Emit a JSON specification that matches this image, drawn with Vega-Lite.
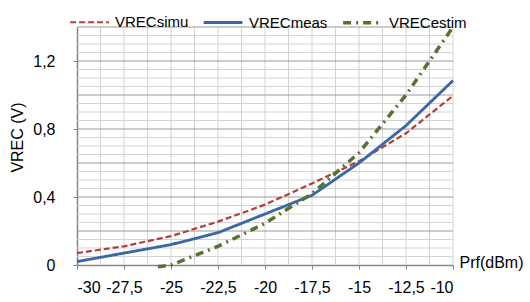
{
  "$schema": "https://vega.github.io/schema/vega-lite/v6.json",
  "width": 376,
  "height": 238,
  "autosize": {"type": "none"},
  "padding": {"left": 77, "top": 27, "right": 77, "bottom": 37},
  "background": "white",
  "config": {
    "view": {"stroke": null},
    "font": "Liberation Sans",
    "locale": {"number": {"decimal": ",", "thousands": ".", "grouping": [3], "currency": ["", " €"], "minus": "-"}}
  },
  "datasets": {
    "main": [
      {"x": -30, "v": 0.07, "series": "VRECsimu"},
      {"x": -27.5, "v": 0.11, "series": "VRECsimu"},
      {"x": -25, "v": 0.17, "series": "VRECsimu"},
      {"x": -22.5, "v": 0.255, "series": "VRECsimu"},
      {"x": -20, "v": 0.355, "series": "VRECsimu"},
      {"x": -17.5, "v": 0.48, "series": "VRECsimu"},
      {"x": -15, "v": 0.61, "series": "VRECsimu"},
      {"x": -12.5, "v": 0.775, "series": "VRECsimu"},
      {"x": -10, "v": 0.995, "series": "VRECsimu"},
      {"x": -30, "v": 0.02, "series": "VRECmeas"},
      {"x": -27.5, "v": 0.07, "series": "VRECmeas"},
      {"x": -25, "v": 0.12, "series": "VRECmeas"},
      {"x": -22.5, "v": 0.19, "series": "VRECmeas"},
      {"x": -20, "v": 0.3, "series": "VRECmeas"},
      {"x": -17.5, "v": 0.41, "series": "VRECmeas"},
      {"x": -15, "v": 0.6, "series": "VRECmeas"},
      {"x": -12.5, "v": 0.82, "series": "VRECmeas"},
      {"x": -10, "v": 1.085, "series": "VRECmeas"},
      {"x": -25.7, "v": -0.01, "series": "VRECestim"},
      {"x": -25, "v": 0.0, "series": "VRECestim"},
      {"x": -22.5, "v": 0.11, "series": "VRECestim"},
      {"x": -20, "v": 0.245, "series": "VRECestim"},
      {"x": -17.5, "v": 0.42, "series": "VRECestim"},
      {"x": -15, "v": 0.66, "series": "VRECestim"},
      {"x": -12.5, "v": 1.0, "series": "VRECestim"},
      {"x": -10, "v": 1.4, "series": "VRECestim"}
    ],
    "gridx": [
      {"g": -28.75}, {"g": -27.5}, {"g": -26.25}, {"g": -25}, {"g": -23.75}, {"g": -22.5}, {"g": -21.25}, {"g": -20},
      {"g": -18.75}, {"g": -17.5}, {"g": -16.25}, {"g": -15}, {"g": -13.75}, {"g": -12.5}, {"g": -11.25}, {"g": -10}
    ],
    "gridyMinor": [
      {"g": 0.05}, {"g": 0.1}, {"g": 0.15}, {"g": 0.25}, {"g": 0.3}, {"g": 0.35}, {"g": 0.45}, {"g": 0.5}, {"g": 0.55},
      {"g": 0.65}, {"g": 0.7}, {"g": 0.75}, {"g": 0.85}, {"g": 0.9}, {"g": 0.95}, {"g": 1.05}, {"g": 1.1}, {"g": 1.15},
      {"g": 1.25}, {"g": 1.3}, {"g": 1.35}
    ],
    "gridyMajor": [
      {"g": 0.2}, {"g": 0.4}, {"g": 0.6}, {"g": 0.8}, {"g": 1}, {"g": 1.2}, {"g": 1.4}
    ]
  },
  "layer": [
    {
      "data": {"name": "gridx"},
      "mark": {"type": "rule", "color": "#d3d3d3", "strokeWidth": 1},
      "encoding": {
        "x": {"field": "g", "type": "quantitative", "scale": {"domain": [-30, -10], "nice": false, "zero": false}}
      }
    },
    {
      "data": {"name": "gridyMinor"},
      "mark": {"type": "rule", "color": "#d3d3d3", "strokeWidth": 1},
      "encoding": {
        "y": {"field": "g", "type": "quantitative", "scale": {"domain": [0, 1.4], "nice": false, "zero": false}}
      }
    },
    {
      "data": {"name": "gridyMajor"},
      "mark": {"type": "rule", "color": "#9a9a9a", "strokeWidth": 1},
      "encoding": {
        "y": {"field": "g", "type": "quantitative", "scale": {"domain": [0, 1.4], "nice": false, "zero": false}}
      }
    },
    {
      "data": {"name": "main"},
      "mark": {"type": "line", "clip": false},
      "encoding": {
        "x": {"field": "x", "type": "quantitative", "scale": {"domain": [-30, -10], "nice": false, "zero": false},
          "axis": {"orient": "bottom", "values": [-30, -27.5, -25, -22.5, -20, -17.5, -15, -12.5, -10], "format": ".1~f",
            "grid": false, "domain": true, "domainColor": "#868686", "domainWidth": 1.5, "ticks": true, "tickColor": "#868686", "tickSize": 4,
            "labelFontSize": 16, "labelColor": "#000000", "labelPadding": 10, "labelFont": "Liberation Sans",
            "title": "Prf(dBm)", "titleFontSize": 16, "titleFontWeight": "normal", "titleColor": "#000000", "titleFont": "Liberation Sans",
            "titleX": 382, "titleY": 2, "titleAlign": "left", "titleBaseline": "alphabetic"}},
        "y": {"field": "v", "type": "quantitative", "scale": {"domain": [0, 1.4], "nice": false, "zero": false},
          "axis": {"orient": "left", "values": [0, 0.2, 0.4, 0.6, 0.8, 1, 1.2, 1.4], "format": ".1~f",
            "grid": false, "domain": true, "domainColor": "#868686", "domainWidth": 1.5, "ticks": true, "tickColor": "#868686", "tickSize": 4,
            "labelFontSize": 16, "labelColor": "#000000", "labelPadding": 18, "labelFont": "Liberation Sans",
            "title": "VREC (V)", "titleFontSize": 16, "titleFontWeight": "normal", "titleColor": "#000000", "titleFont": "Liberation Sans",
            "titleX": -60, "titleY": 110, "titleAngle": 270, "titleAlign": "center", "titleBaseline": "middle"}},
        "color": {"field": "series", "type": "nominal",
          "scale": {"domain": ["VRECsimu", "VRECmeas", "VRECestim"], "range": ["#b23f3b", "#3a68a4", "#567230"]},
          "legend": {"orient": "none", "legendX": -8, "legendY": -26, "direction": "horizontal", "title": null,
            "symbolType": "stroke", "symbolSize": 1500, "labelFontSize": 15, "labelFont": "Liberation Sans", "labelColor": "#000000",
            "columnPadding": 8, "labelOffset": 5, "padding": 0}},
        "strokeDash": {"field": "series", "type": "nominal",
          "scale": {"domain": ["VRECsimu", "VRECmeas", "VRECestim"], "range": [[6, 3], [1, 0], [8, 5, 2, 5]]},
          "legend": {"orient": "none", "legendX": -8, "legendY": -26, "direction": "horizontal", "title": null,
            "symbolType": "stroke", "symbolSize": 1500, "labelFontSize": 15, "labelFont": "Liberation Sans", "labelColor": "#000000",
            "columnPadding": 8, "labelOffset": 5, "padding": 0}},
        "strokeWidth": {"field": "series", "type": "ordinal",
          "scale": {"domain": ["VRECsimu", "VRECmeas", "VRECestim"], "range": [2.2, 3.5, 2]},
          "legend": {"orient": "none", "legendX": -8, "legendY": -26, "direction": "horizontal", "title": null,
            "symbolType": "stroke", "symbolSize": 1500, "labelFontSize": 15, "labelFont": "Liberation Sans", "labelColor": "#000000",
            "columnPadding": 8, "labelOffset": 5, "padding": 0}}
      }
    }
  ]
}
